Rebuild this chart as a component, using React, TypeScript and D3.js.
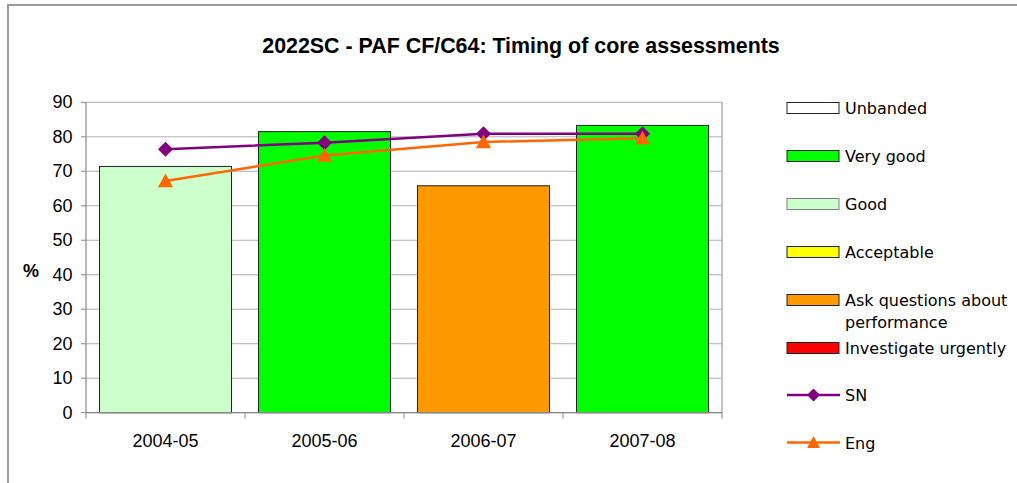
import React from 'react';
import * as d3 from 'd3';

const categories = ['2004-05', '2005-06', '2006-07', '2007-08'];
const barValues = [71.4, 81.5, 65.8, 83.3];
const barBands = ['Good', 'Very good', 'Ask questions about performance', 'Very good'];
const snValues = [76.4, 78.3, 80.9, 80.9];
const engValues = [67.2, 74.6, 78.5, 79.6];
const yTicks = [0, 10, 20, 30, 40, 50, 60, 70, 80, 90];

const bandColors: Record<string, string> = {
  'Unbanded': '#FFFFFF',
  'Very good': '#00FF00',
  'Good': '#CCFFCC',
  'Acceptable': '#FFFF00',
  'Ask questions about performance': '#FF9900',
  'Investigate urgently': '#FF0000',
};
const legendBands = ['Unbanded', 'Very good', 'Good', 'Acceptable', 'Ask questions about performance', 'Investigate urgently'];

const W = 1017;
const H = 483;
const plot = { left: 86, right: 722, top: 102.3, bottom: 412.7 };
const SN_COLOR = '#800080';
const ENG_COLOR = '#FF6600';
const AXIS_FONT = '"Liberation Sans", Arial, sans-serif';
const LEGEND_FONT = '"DejaVu Sans", Tahoma, sans-serif';

const diamond = (cx: number, cy: number, r: number) =>
  `M${cx},${cy - r}L${cx + r},${cy}L${cx},${cy + r}L${cx - r},${cy}Z`;
const triangle = (cx: number, cy: number, r: number) =>
  `M${cx},${cy - r}L${cx + r},${cy + r * 0.85}L${cx - r},${cy + r * 0.85}Z`;

export default function App() {
  const x = d3.scaleBand<string>().domain(categories).range([plot.left, plot.right]).paddingInner(0.17).paddingOuter(0.085);
  const xc = d3.scaleBand<string>().domain(categories).range([plot.left, plot.right]);
  const y = d3.scaleLinear().domain([0, 90]).range([plot.bottom, plot.top]);

  const line = d3.line<number>()
    .x((_, i) => xc(categories[i])! + xc.bandwidth() / 2)
    .y(d => y(d));

  const legendX = 787;
  const legendRow = (i: number) => 108 + i * 48;

  return (
    <svg width={W} height={H} style={{ position: 'absolute', left: 0, top: 0, background: '#fff' }}>
      {/* outer frame */}
      <rect x={8} y={5} width={W + 10} height={H + 10} fill="#fff" stroke="#999" strokeWidth={2} />

      <text x={521} y={53} textAnchor="middle" fontFamily={AXIS_FONT} fontWeight="bold" fontSize={21.4}>
        2022SC - PAF CF/C64: Timing of core assessments
      </text>

      {/* gridlines */}
      {yTicks.map(t => (
        <line key={t} x1={plot.left} x2={plot.right} y1={y(t)} y2={y(t)} stroke="#b0b0b0" strokeWidth={1} />
      ))}
      <line x1={plot.right} x2={plot.right} y1={plot.top} y2={plot.bottom} stroke="#b0b0b0" strokeWidth={1.5} />

      {/* bars */}
      {categories.map((c, i) => (
        <rect key={c} x={x(c)} y={y(barValues[i])} width={x.bandwidth()} height={y(0) - y(barValues[i])}
          fill={bandColors[barBands[i]]} stroke="#222" strokeWidth={1} />
      ))}

      {/* axes */}
      <line x1={plot.left} x2={plot.left} y1={plot.top} y2={plot.bottom} stroke="#888" strokeWidth={1.2} />
      <line x1={plot.left} x2={plot.right} y1={plot.bottom} y2={plot.bottom} stroke="#888" strokeWidth={1.2} />
      {yTicks.map(t => (
        <g key={t}>
          <line x1={plot.left - 5} x2={plot.left} y1={y(t)} y2={y(t)} stroke="#888" />
          <text x={72.5} y={y(t) + 6} textAnchor="end" fontFamily={AXIS_FONT} fontSize={18}>{t}</text>
        </g>
      ))}
      {categories.concat(['']).map((c, i) => {
        const bx = plot.left + i * xc.bandwidth();
        return <line key={'t' + i} x1={bx} x2={bx} y1={plot.bottom} y2={plot.bottom + 6} stroke="#888" />;
      })}
      {categories.map(c => (
        <text key={c} x={xc(c)! + xc.bandwidth() / 2} y={447} textAnchor="middle" fontFamily={AXIS_FONT} fontSize={18}>{c}</text>
      ))}
      <text x={31} y={277} textAnchor="middle" fontFamily={AXIS_FONT} fontWeight="bold" fontSize={18}>%</text>

      {/* lines */}
      <path d={line(snValues)!} fill="none" stroke={SN_COLOR} strokeWidth={2.5} />
      {snValues.map((v, i) => (
        <path key={i} d={diamond(xc(categories[i])! + xc.bandwidth() / 2, y(v), 7.5)} fill={SN_COLOR} />
      ))}
      <path d={line(engValues)!} fill="none" stroke={ENG_COLOR} strokeWidth={2.5} />
      {engValues.map((v, i) => (
        <path key={i} d={triangle(xc(categories[i])! + xc.bandwidth() / 2, y(v), 7.5)} fill={ENG_COLOR} />
      ))}

      {/* legend */}
      {legendBands.map((b, i) => {
        const cy = legendRow(i);
        return (
          <g key={b}>
            <rect x={legendX} y={cy - 5.5} width={52} height={11} fill={bandColors[b]}
              stroke={b === 'Good' ? '#808080' : '#222'} strokeWidth={1} />
            {b === 'Ask questions about performance' ? (
              <text x={845} y={cy + 6} fontFamily={LEGEND_FONT} fontSize={16}>
                <tspan x={845}>Ask questions about</tspan>
                <tspan x={845} dy={22}>performance</tspan>
              </text>
            ) : (
              <text x={845} y={cy + 6} fontFamily={LEGEND_FONT} fontSize={16}>{b}</text>
            )}
          </g>
        );
      })}
      <g>
        <line x1={legendX} x2={legendX + 53} y1={395} y2={395} stroke={SN_COLOR} strokeWidth={2.5} />
        <path d={diamond(legendX + 26.5, 395, 6.5)} fill={SN_COLOR} />
        <text x={845} y={401} fontFamily={LEGEND_FONT} fontSize={16}>SN</text>
      </g>
      <g>
        <line x1={legendX} x2={legendX + 53} y1={442.5} y2={442.5} stroke={ENG_COLOR} strokeWidth={2.5} />
        <path d={triangle(legendX + 26.5, 442.5, 6.5)} fill={ENG_COLOR} />
        <text x={845} y={449} fontFamily={LEGEND_FONT} fontSize={16}>Eng</text>
      </g>
    </svg>
  );
}
